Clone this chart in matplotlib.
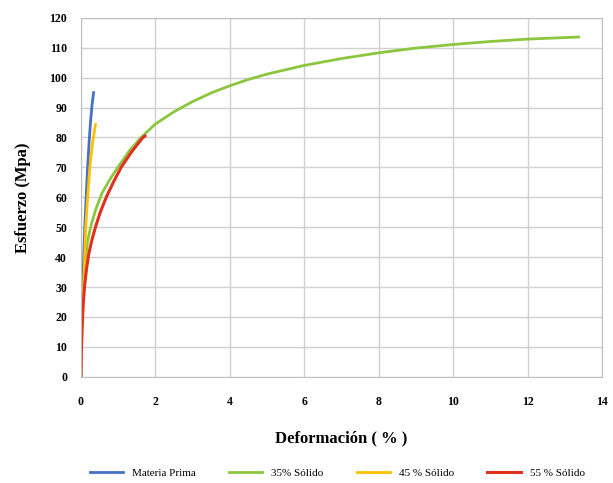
import matplotlib.pyplot as plt
import numpy as np

# Data (strain %, stress MPa)
mp_x = [0.0, 0.02, 0.05, 0.08, 0.11, 0.14, 0.18, 0.22, 0.26, 0.30, 0.34]
mp_y = [0, 15, 30, 42, 52, 60, 70, 78.5, 85.5, 91, 95]

s35_x = [0.05, 0.08, 0.12, 0.18, 0.28, 0.40, 0.57, 0.78, 0.99, 1.30, 1.60, 2.0, 2.5, 3.0, 3.5, 4.0,
         4.5, 5.0, 6.0, 7.0, 8.0, 9.0, 10.0, 11.0, 12.0, 13.37]
s35_y = [25, 32, 39, 45.5, 51, 56, 61.5, 66, 70, 75.5, 79.8, 84.5, 88.6, 92, 94.9, 97.3,
         99.4, 101.2, 104.1, 106.4, 108.3, 109.9, 111.1, 112.1, 112.9, 113.6]

s45_x = [0.0, 0.03, 0.06, 0.09, 0.13, 0.18, 0.24, 0.31, 0.39]
s45_y = [0, 15, 25, 36, 50, 60, 70, 78, 84.3]

s55_x = [0.0, 0.01, 0.03, 0.06, 0.10, 0.15, 0.21, 0.29, 0.39, 0.52, 0.68, 0.87, 1.08, 1.35, 1.65, 1.72]
s55_y = [0, 8, 16, 24, 30.5, 36, 41, 45.5, 50, 55, 60, 65, 70, 75, 79.8, 80.5]

plt.rcParams['font.family'] = ['Liberation Serif', 'DejaVu Serif']

fig = plt.figure(figsize=(6.13, 4.83), dpi=100)
ax = fig.add_axes([0.132, 0.22, 0.85, 0.743])

ax.plot(mp_x, mp_y, color='#4472c4', lw=2, label='Materia Prima')
ax.plot(s35_x, s35_y, color='#8cc63f', lw=2, label='35% Sólido')
ax.plot(s45_x, s45_y, color='#ffc000', lw=2, label='45 % Sólido')
ax.plot(s55_x, s55_y, color='#e0301e', lw=2.2, label='55 % Sólido')

ax.set_xlim(0, 14)
ax.set_ylim(0, 120)
ax.set_xticks(range(0, 15, 2))
ax.set_yticks(range(0, 121, 10))
ax.grid(True, color='#d0d0d0', lw=1)
ax.set_axisbelow(True)
for s in ax.spines.values():
    s.set_color('#bfbfbf')
ax.tick_params(axis='x', length=0, labelsize=8.5, pad=14)
ax.tick_params(axis='y', length=0, labelsize=8.5, pad=10)
for lbl in ax.get_xticklabels() + ax.get_yticklabels():
    lbl.set_fontweight('bold')

ax.set_xlabel('Deformación ( % )', fontsize=12, fontweight='bold', labelpad=16)
ax.set_ylabel('Esfuerzo (Mpa)', fontsize=12, fontweight='bold', labelpad=13)

fig.legend(loc='lower center', bbox_to_anchor=(0.55, -0.01), ncol=4, frameon=False,
           fontsize=8, handlelength=3, columnspacing=3)

fig.savefig('out.png', dpi=100)
